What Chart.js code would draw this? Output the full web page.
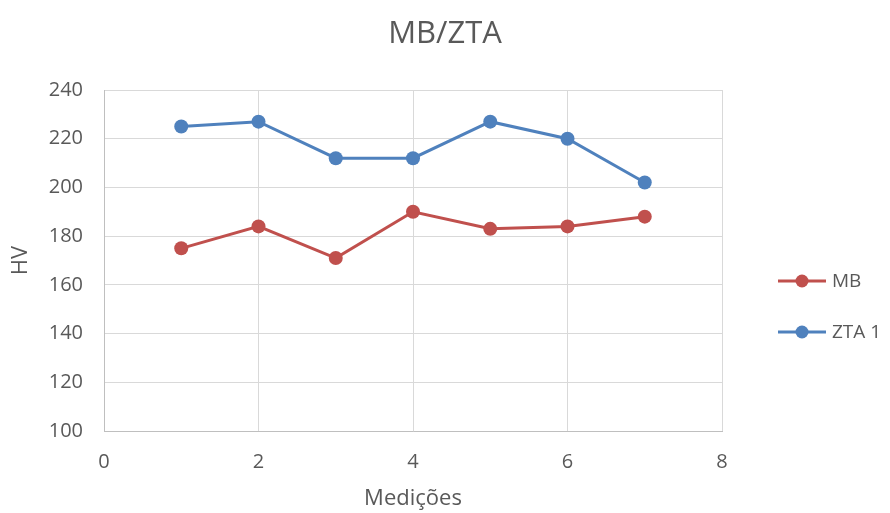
<!DOCTYPE html>
<html>
<head>
<meta charset="utf-8">
<script src="https://cdn.jsdelivr.net/npm/chart.js@4/dist/chart.umd.min.js"></script>
<style>
  html, body { margin: 0; padding: 0; background: #fff; }
  #wrap { width: 890px; height: 513px; }
</style>
</head>
<body>
<div id="wrap"><canvas id="c" width="890" height="513"></canvas></div>
<script>
const medicoes = [1, 2, 3, 4, 5, 6, 7];
const mbValues = [175, 184, 171, 190, 183, 184, 188];
const ztaValues = [225, 227, 212, 212, 227, 220, 202];
const seriesNames = ['MB', 'ZTA 1'];
const seriesColors = ['#C0504D', '#4F81BD'];
const chartTitle = 'MB/ZTA';

const textColor = '#595959';
const fontFamily = '"Open Sans", "Liberation Sans", sans-serif';

const toPoints = vals => medicoes.map((x, i) => ({ x: x, y: vals[i] }));

// Title centred over the whole canvas, legend at the right
const decorations = {
  id: 'decorations',
  afterDraw(chart) {
    const ctx = chart.ctx;
    ctx.save();
    ctx.fillStyle = textColor;
    ctx.font = '31px ' + fontFamily;
    ctx.textAlign = 'center';
    ctx.textBaseline = 'middle';
    ctx.fillText(chartTitle, chart.width / 2, 34);

    const rows = [281, 332];
    seriesNames.forEach((name, i) => {
      const y = rows[i];
      ctx.strokeStyle = seriesColors[i];
      ctx.lineWidth = 3;
      ctx.beginPath();
      ctx.moveTo(778, y);
      ctx.lineTo(826, y);
      ctx.stroke();
      ctx.fillStyle = seriesColors[i];
      ctx.beginPath();
      ctx.arc(802, y, 6.5, 0, Math.PI * 2);
      ctx.fill();
      ctx.fillStyle = textColor;
      ctx.font = '19px ' + fontFamily;
      ctx.textBaseline = 'middle';
      ctx.textAlign = 'left';
      ctx.fillText(name, 832, y + 1);
    });
    ctx.restore();
  }
};

new Chart(document.getElementById('c'), {
  type: 'line',
  data: {
    datasets: [
      {
        label: seriesNames[0],
        data: toPoints(mbValues),
        borderColor: seriesColors[0],
        backgroundColor: seriesColors[0],
        borderWidth: 3,
        pointRadius: 7,
        pointHoverRadius: 7,
        pointBorderWidth: 0,
        tension: 0
      },
      {
        label: seriesNames[1],
        data: toPoints(ztaValues),
        borderColor: seriesColors[1],
        backgroundColor: seriesColors[1],
        borderWidth: 3,
        pointRadius: 7,
        pointHoverRadius: 7,
        pointBorderWidth: 0,
        tension: 0
      }
    ]
  },
  options: {
    responsive: false,
    animation: false,
    devicePixelRatio: 1,
    layout: { padding: { left: 0, right: 168, top: 90, bottom: 0 } },
    plugins: {
      legend: { display: false },
      tooltip: { enabled: false },
      title: { display: false }
    },
    scales: {
      x: {
        type: 'linear',
        min: 0,
        max: 8,
        afterFit(scale) { scale.height = 82; },
        ticks: {
          stepSize: 2,
          color: textColor,
          padding: 19,
          font: { family: fontFamily, size: 20 }
        },
        grid: { color: '#D9D9D9', lineWidth: 1, drawTicks: false },
        border: { color: '#BFBFBF', width: 1 },
        title: {
          display: true,
          text: 'Medições',
          color: textColor,
          font: { family: fontFamily, size: 22 },
          padding: { top: 0, bottom: 1 }
        }
      },
      y: {
        min: 100,
        max: 240,
        afterFit(scale) { scale.width = 104; },
        ticks: {
          stepSize: 20,
          color: textColor,
          padding: 21,
          font: { family: fontFamily, size: 20 }
        },
        grid: { color: '#D9D9D9', lineWidth: 1, drawTicks: false },
        border: { color: '#BFBFBF', width: 1 },
        title: {
          display: true,
          text: 'HV',
          color: textColor,
          font: { family: fontFamily, size: 22 },
          padding: { top: 8, bottom: 0 }
        }
      }
    }
  },
  plugins: [decorations]
});
</script>
</body>
</html>
